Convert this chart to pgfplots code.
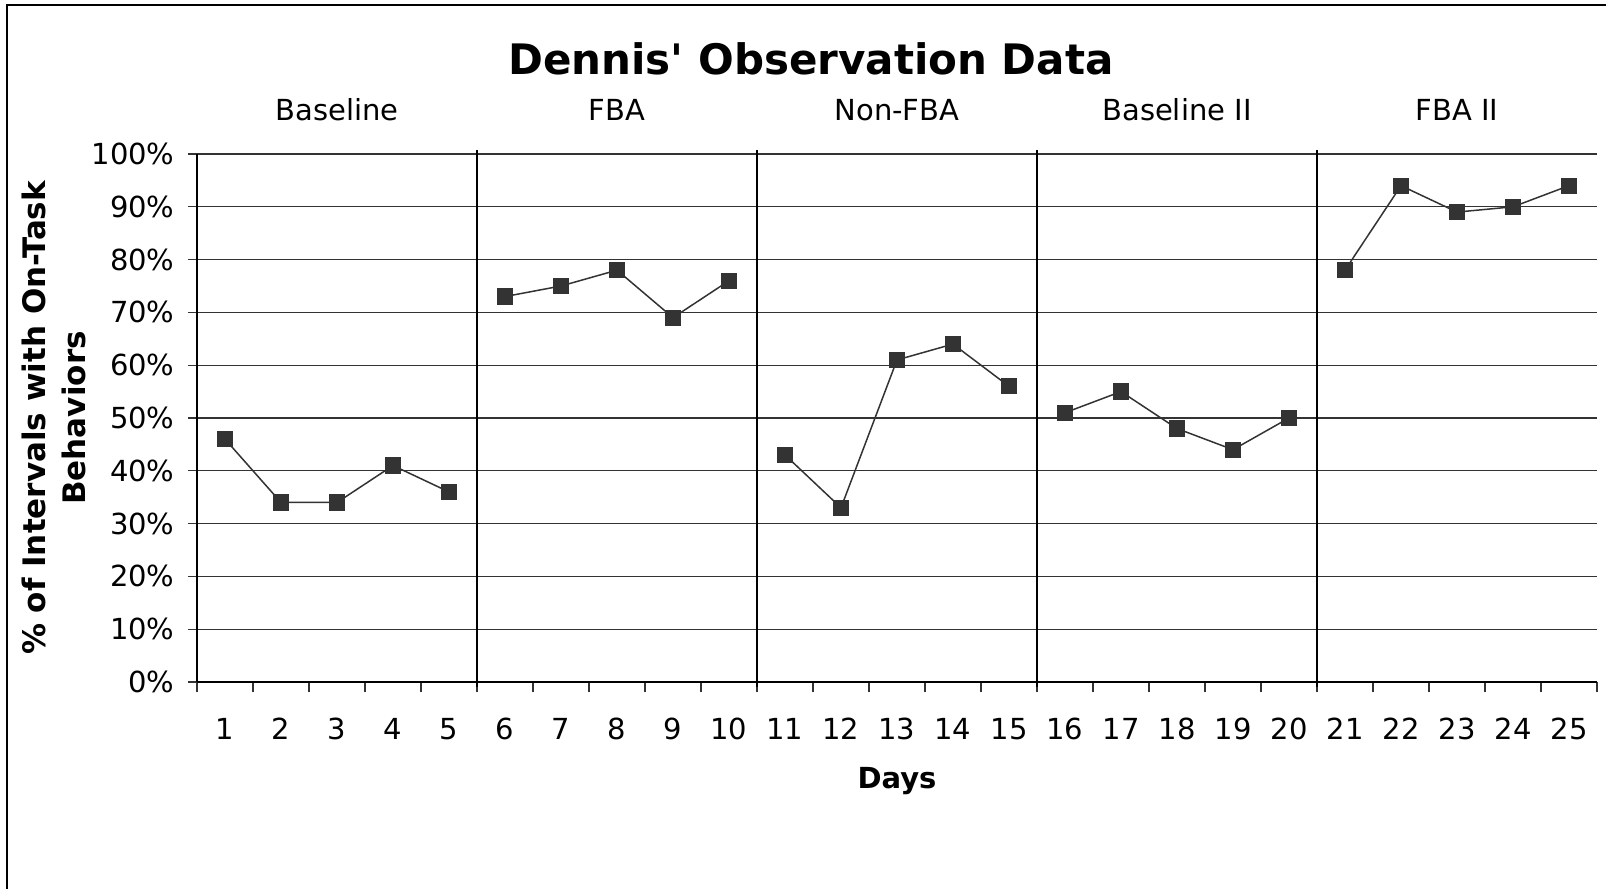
\documentclass[border=0pt]{standalone}
\usepackage{fontspec}
\setmainfont{DejaVu Sans}[Ligatures=TeXOff]
\usepackage{pgfplots}
\pgfplotsset{compat=1.18}
\begin{document}
\begin{tikzpicture}
\useasboundingbox (0,0) rectangle (803pt,445.5pt);
\draw[line width=0.9pt] (803pt,443pt) -- (3.5pt,443pt) -- (3.5pt,1pt);
\begin{axis}[
  at={(98.5pt,104.5pt)}, anchor=south west,
  scale only axis, width=700pt, height=264pt,
  xmin=0.5, xmax=25.5, ymin=0, ymax=100,
  axis x line*=bottom, axis y line*=left,
  axis line style={-, line width=0.8pt, black},
  xtick={1,...,25},
  major x tick style={draw=none},
  minor xtick={0.5,1.5,...,25.5},
  minor tick length=5pt,
  minor x tick style={black!80, line width=0.7pt},
  ytick={0,10,...,100},
  yticklabel={\pgfmathprintnumber{\tick}\%},
  ymajorgrids,
  major grid style={black!80, line width=0.6pt},
  tick align=outside, major tick length=4.5pt,
  major y tick style={black!80, line width=0.6pt},
  tick label style={font=\fontsize{14.5}{17}\selectfont},
  /pgf/number format/assume math mode=true,
  xticklabel style={anchor=center, yshift=-19pt},
  yticklabel style={anchor=east, xshift=-3.2pt},
  xlabel={Days},
  xlabel style={at={(axis description cs:0.5,-0.1875)}, anchor=center, font=\bfseries\fontsize{14.5}{17}\selectfont},
  ylabel={\% of Intervals with On-Task\\Behaviors},
  ylabel style={at={(axis description cs:-0.1021,0.5)}, anchor=center, align=center, font=\bfseries\fontsize{15.5}{20}\selectfont},
  clip=false,
]
\addplot[black!80, line width=0.75pt, mark=square*, mark size=3.7pt] coordinates {(1,46) (2,34) (3,34) (4,41) (5,36)};
\addplot[black!80, line width=0.75pt, mark=square*, mark size=3.7pt] coordinates {(6,73) (7,75) (8,78) (9,69) (10,76)};
\addplot[black!80, line width=0.75pt, mark=square*, mark size=3.7pt] coordinates {(11,43) (12,33) (13,61) (14,64) (15,56)};
\addplot[black!80, line width=0.75pt, mark=square*, mark size=3.7pt] coordinates {(16,51) (17,55) (18,48) (19,44) (20,50)};
\addplot[black!80, line width=0.75pt, mark=square*, mark size=3.7pt] coordinates {(21,78) (22,94) (23,89) (24,90) (25,94)};
\draw[black, line width=0.9pt] (axis cs:5.5,100.8) -- (axis cs:5.5,-1);
\draw[black, line width=0.9pt] (axis cs:10.5,100.8) -- (axis cs:10.5,-1);
\draw[black, line width=0.9pt] (axis cs:15.5,100.8) -- (axis cs:15.5,-1);
\draw[black, line width=0.9pt] (axis cs:20.5,100.8) -- (axis cs:20.5,-1);
\node[font=\fontsize{14.5}{17}\selectfont] at (axis cs:3,108.3) {Baseline};
\node[font=\fontsize{14.5}{17}\selectfont] at (axis cs:8,108.3) {FBA};
\node[font=\fontsize{14.5}{17}\selectfont] at (axis cs:13,108.3) {Non-FBA};
\node[font=\fontsize{14.5}{17}\selectfont] at (axis cs:18,108.3) {Baseline II};
\node[font=\fontsize{14.5}{17}\selectfont] at (axis cs:23,108.3) {FBA II};
\end{axis}
\node[font=\bfseries\fontsize{21}{25}\selectfont] at (405.5pt,416pt) {Dennis' Observation Data};
\end{tikzpicture}
\end{document}
